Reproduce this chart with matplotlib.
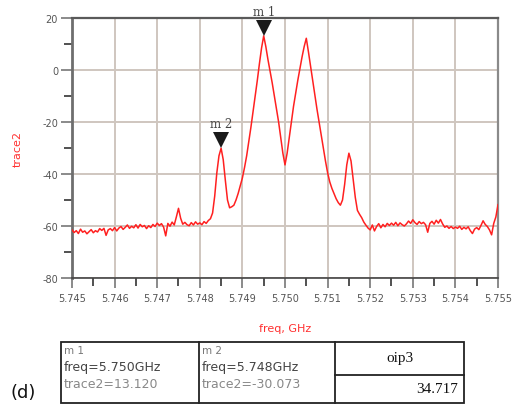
import numpy as np
import matplotlib
matplotlib.use("Agg")
import matplotlib.pyplot as plt
from matplotlib.transforms import offset_copy
from matplotlib.patches import Rectangle
from matplotlib.lines import Line2D

# ---------------- data ----------------
f_start = 5.745
f_step = 0.00005
trace2 = [
    # 5.745 .. 5.748 (n=0..60)
    -61.5, -62.5, -61.8, -62.9, -61.2, -62.4, -61.9, -63.0, -62.2, -61.4,
    -62.6, -61.8, -62.3, -61.0, -61.7, -60.9, -63.6, -61.5, -61.0, -61.8,
    -60.6, -61.9, -60.8, -60.2, -61.3, -60.5, -59.6, -60.9, -60.1, -60.7,
    -59.5, -60.8, -59.4, -60.3, -59.8, -61.0, -59.9, -60.6, -59.4, -60.2,
    -58.9, -59.8, -59.1, -60.4, -63.8, -59.0, -60.1, -58.5, -59.6, -56.5,
    -53.2, -57.0, -59.3, -58.6, -59.5, -59.9, -58.7, -59.6, -58.4, -59.3,
    -58.8,
    # n=61..75 (m2 peak region)
    -59.5, -58.3, -59.0, -57.9, -57.2, -55.0, -48.5, -39.5, -33.0, -30.073,
    -34.5, -42.5, -50.0, -53.0, -52.6,
    # n=76..90 (rise to m1)
    -52.0, -50.0, -47.5, -44.5, -41.5, -37.5, -33.0, -27.5, -22.0, -16.0,
    -10.0, -4.0, 2.5, 8.5, 13.12,
    # n=91..110
    9.0, 4.0, -0.5, -5.0, -10.0, -15.0, -20.0, -26.0, -32.0, -36.5,
    -32.0, -26.0, -20.0, -14.0, -9.0, -4.0, 0.5, 5.0, 9.0, 12.2,
    # n=111..140
    7.0, 1.5, -4.0, -9.5, -15.0, -20.0, -25.0, -30.0, -35.0, -39.5,
    -43.0, -45.5, -47.5, -49.5, -51.0, -52.0, -50.0, -44.0, -36.5, -32.0,
    -35.0, -42.0, -49.0, -54.0, -55.5, -56.8, -58.5, -59.7, -60.8, -61.5,
    # n=141..200
    -59.6, -61.9, -60.2, -59.1, -60.7, -59.4, -60.3, -59.0, -59.8, -58.9,
    -59.7, -58.6, -59.9, -58.8, -59.5, -60.0, -59.2, -58.1, -59.0, -57.6,
    -58.7, -59.4, -58.3, -59.1, -58.6, -59.5, -62.4, -59.0, -58.2, -59.3,
    -57.8, -58.9, -57.5, -59.2, -60.5, -60.0, -60.9, -60.2, -61.0, -60.4,
    -60.9, -60.1, -61.3, -60.5, -61.1, -60.3, -61.8, -62.9, -61.2, -60.6,
    -61.4, -59.8, -58.0, -59.4, -60.2, -61.5, -63.4, -59.0, -56.5, -51.8,
]
freq = [f_start + i * f_step for i in range(len(trace2))]

x_ticks = [5.745, 5.746, 5.747, 5.748, 5.749, 5.750, 5.751, 5.752, 5.753, 5.754, 5.755]
x_ticklabels = ["5.745", "5.746", "5.747", "5.748", "5.749", "5.750", "5.751",
                "5.752", "5.753", "5.754", "5.755"]
y_ticks = [-80, -60, -40, -20, 0, 20]
y_ticklabels = ["-80", "-60", "-40", "-20", "0", "20"]

markers = ["m 1", "m 2"]
marker_freq = [5.7495, 5.7485]
marker_val = [13.120, -30.073]

m1_lines = ["m 1", "freq=5.750GHz", "trace2=13.120"]
m2_lines = ["m 2", "freq=5.748GHz", "trace2=-30.073"]
oip3_label = "oip3"
oip3_value = "34.717"

# ---------------- figure ----------------
W, H = 515, 406
fig = plt.figure(figsize=(W / 100, H / 100), dpi=100)
ax = fig.add_axes([72 / W, 1 - 279 / H, (498 - 72) / W, (279 - 19) / H])

ax.plot(freq, trace2, color="#ff2020", lw=1.1, zorder=3)
ax.set_xlim(5.745, 5.755)
ax.set_ylim(-80, 20)

grid_c = "#cfc6bf"
ax.set_xticks(x_ticks)
ax.set_xticklabels(x_ticklabels)
ax.set_xticks([t + 0.0005 for t in x_ticks[:-1]], minor=True)
ax.set_yticks(y_ticks)
ax.set_yticklabels(y_ticklabels)
ax.set_yticks([-70, -50, -30, -10, 10], minor=True)
ax.grid(True, which="major", color=grid_c, lw=1.4, zorder=0)

ax.tick_params(axis="x", which="major", direction="out", length=7, width=1.2,
               color="#777777", labelsize=7, labelcolor="#555555", pad=4)
ax.tick_params(axis="x", which="minor", direction="out", length=6, width=1.2,
               color="#333333")
ax.tick_params(axis="y", which="major", direction="out", length=8, width=1.2,
               color="#777777", labelsize=7, labelcolor="#555555", pad=2)
ax.tick_params(axis="y", which="minor", direction="out", length=6, width=1.2,
               color="#333333")

ax.spines["left"].set_color("#6e6e6e")
ax.spines["left"].set_linewidth(2.0)
ax.spines["top"].set_color("#5a5a5a")
ax.spines["top"].set_linewidth(1.6)
ax.spines["right"].set_color("#8a8a8a")
ax.spines["right"].set_linewidth(1.6)
ax.spines["bottom"].set_color("#444444")
ax.spines["bottom"].set_linewidth(1.2)

ax.set_ylabel("trace2", color="#ff3030", fontsize=8, labelpad=14)
ax.set_xlabel("freq, GHz", color="#ff3030", fontsize=8, labelpad=14)

# markers
tri_tr = offset_copy(ax.transData, fig=fig, x=0, y=5.6, units="points")
txt_tr = offset_copy(ax.transData, fig=fig, x=0, y=13, units="points")
for name, fxv, fv in zip(markers, marker_freq, marker_val):
    ax.plot([fxv], [fv], marker="v", ms=11.5, color="#1a1a1a", transform=tri_tr,
            clip_on=False, zorder=5, markeredgewidth=0)
    ax.text(fxv, fv, name, transform=txt_tr, ha="center", va="bottom",
            fontsize=8.5, color="#444444", family="DejaVu Serif", clip_on=False)

# ---------------- table ----------------
def fx(px):
    return px / W

def fy(py):
    return 1 - py / H

lc = "#222222"
x0, x1, x2, x3 = 61, 199, 335, 464
ytop, ybot, ymid = 343, 404, 376
fig.add_artist(Rectangle((fx(x0), fy(ybot)), fx(x3) - fx(x0), fy(ytop) - fy(ybot),
                         fill=False, edgecolor=lc, lw=1.3, transform=fig.transFigure))
for xv in (x1, x2):
    fig.add_artist(Line2D([fx(xv), fx(xv)], [fy(ytop), fy(ybot)], color=lc, lw=1.3,
                          transform=fig.transFigure))
fig.add_artist(Line2D([fx(x2), fx(x3)], [fy(ymid), fy(ymid)], color=lc, lw=1.3,
                      transform=fig.transFigure))

for xs, lines in ((64, m1_lines), (202, m2_lines)):
    fig.text(fx(xs), fy(351), lines[0], fontsize=7.5, color="#777777", va="center")
    fig.text(fx(xs), fy(368), lines[1], fontsize=9, color="#444444", va="center")
    fig.text(fx(xs), fy(385), lines[2], fontsize=9, color="#888888", va="center")

fig.text(fx(400), fy(359), oip3_label, fontsize=11, family="Liberation Serif",
         color="#111111", ha="center", va="center")
fig.text(fx(458), fy(390), oip3_value, fontsize=11, family="Liberation Serif",
         color="#111111", ha="right", va="center")

fig.text(fx(10), fy(393), "(d)", fontsize=13, color="#111111", va="center")

fig.savefig("out.png", dpi=100)
